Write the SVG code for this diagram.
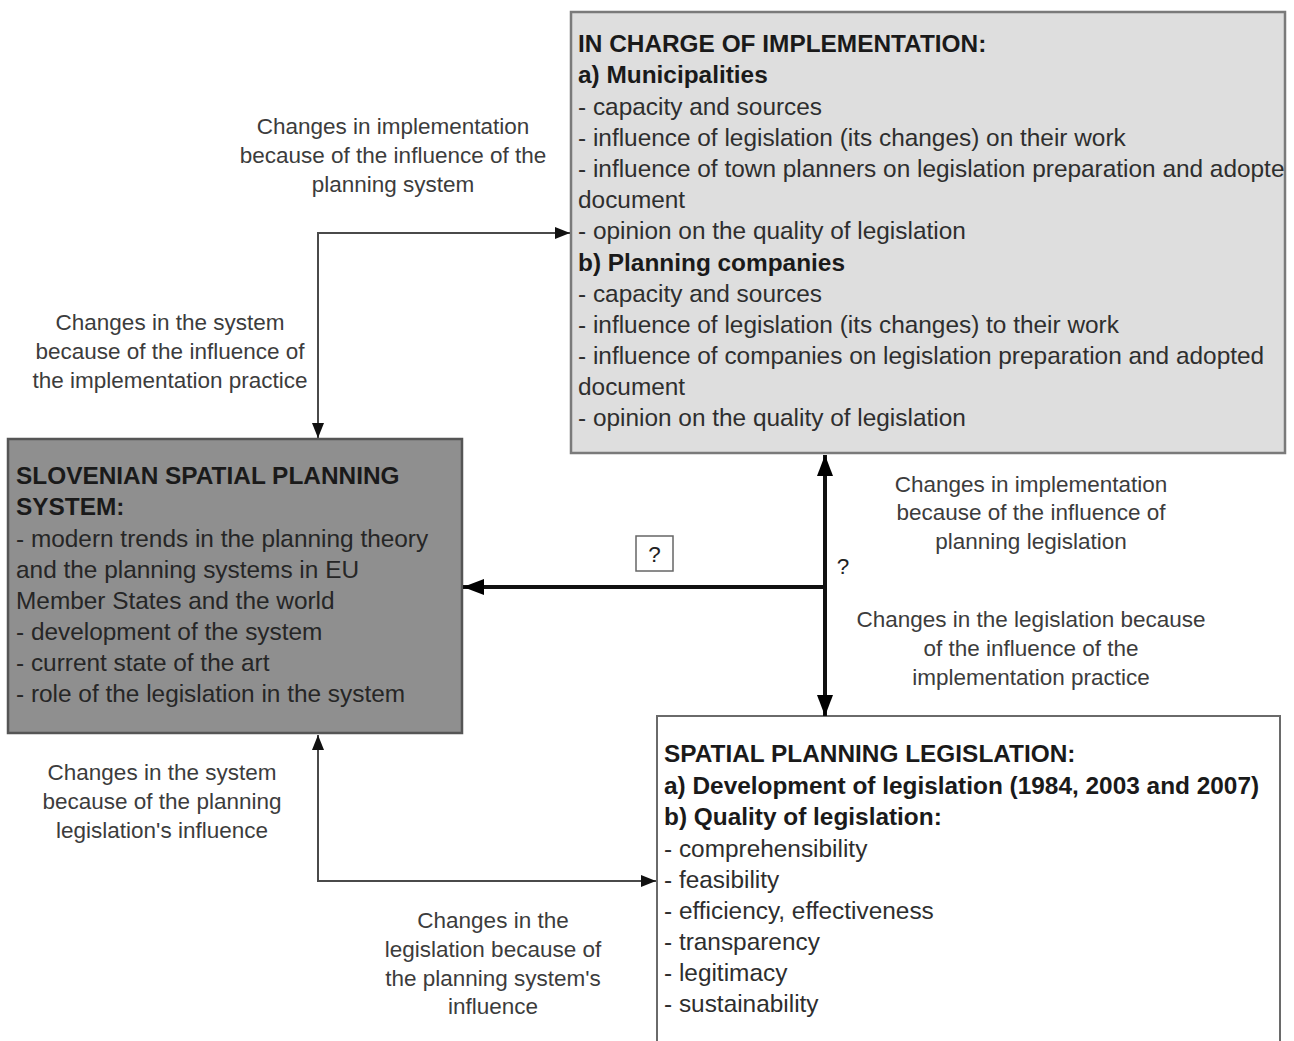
<svg xmlns="http://www.w3.org/2000/svg" width="1294" height="1041" viewBox="0 0 1294 1041">
<style>
.bt{font-family:"Liberation Sans",Arial,sans-serif;font-size:24.4px;fill:#2e2e2e}
.b{font-weight:bold;fill:#1a1a1a}
.lbl{font-family:"Liberation Sans",Arial,sans-serif;font-size:22.5px;fill:#3c3c3c;text-anchor:middle}
.thin{fill:none;stroke:#4a4a4a;stroke-width:2}
.thick{fill:none;stroke:#111;stroke-width:4}
</style>
<defs>
<marker id="aThin" markerUnits="userSpaceOnUse" markerWidth="16" markerHeight="14" refX="15" refY="7" orient="auto-start-reverse" viewBox="0 0 16 14">
<path d="M0,1 L15,7 L0,13 Z" fill="#111"/>
</marker>
<marker id="aThick" markerUnits="userSpaceOnUse" markerWidth="22" markerHeight="18" refX="21" refY="9" orient="auto-start-reverse" viewBox="0 0 22 18">
<path d="M0,1 L21,9 L0,17 Z" fill="#000"/>
</marker>
</defs>
<rect width="1294" height="1041" fill="#fff"/>

<g id="implementation">
<rect x="571" y="12" width="714" height="441" fill="#dedede" stroke="#7a7a7a" stroke-width="2.5"/>
<text class="bt" x="578"><tspan class="b" x="578" y="52">IN CHARGE OF IMPLEMENTATION:</tspan><tspan class="b" x="578" y="83">a) Municipalities</tspan><tspan x="578" y="115">- capacity and sources</tspan><tspan x="578" y="146">- influence of legislation (its changes) on their work</tspan><tspan x="578" y="177">- influence of town planners on legislation preparation and adopte</tspan><tspan x="578" y="208">document</tspan><tspan x="578" y="239">- opinion on the quality of legislation</tspan><tspan class="b" x="578" y="271">b) Planning companies</tspan><tspan x="578" y="302">- capacity and sources</tspan><tspan x="578" y="333">- influence of legislation (its changes) to their work</tspan><tspan x="578" y="364">- influence of companies on legislation preparation and adopted</tspan><tspan x="578" y="395">document</tspan><tspan x="578" y="426">- opinion on the quality of legislation</tspan></text>
</g>

<g id="system">
<rect x="8" y="439" width="454" height="294" fill="#8f8f8f" stroke="#555" stroke-width="2.5"/>
<text class="bt" x="16" style="fill:#262626"><tspan class="b" x="16" y="484">SLOVENIAN SPATIAL PLANNING</tspan><tspan class="b" x="16" y="515">SYSTEM:</tspan><tspan x="16" y="547">- modern trends in the planning theory</tspan><tspan x="16" y="578">and the planning systems in EU</tspan><tspan x="16" y="609">Member States and the world</tspan><tspan x="16" y="640">- development of the system</tspan><tspan x="16" y="671">- current state of the art</tspan><tspan x="16" y="702">- role of the legislation in the system</tspan></text>
</g>

<g id="legislation">
<rect x="657" y="716" width="623" height="360" fill="#fff" stroke="#6a6a6a" stroke-width="2"/>
<text class="bt" x="664"><tspan class="b" x="664" y="762">SPATIAL PLANNING LEGISLATION:</tspan><tspan class="b" x="664" y="794">a) Development of legislation (1984, 2003 and 2007)</tspan><tspan class="b" x="664" y="825">b) Quality of legislation:</tspan><tspan x="664" y="857">- comprehensibility</tspan><tspan x="664" y="888">- feasibility</tspan><tspan x="664" y="919">- efficiency, effectiveness</tspan><tspan x="664" y="950">- transparency</tspan><tspan x="664" y="981">- legitimacy</tspan><tspan x="664" y="1012">- sustainability</tspan></text>
</g>

<g id="question-box">
<rect x="636" y="536" width="37" height="35" fill="#fff" stroke="#666" stroke-width="1.5"/>
<text class="lbl" x="654.5" y="562" style="fill:#222">?</text>
</g>

<g id="connectors">
<path class="thin" d="M318,438 V233 H570" marker-start="url(#aThin)" marker-end="url(#aThin)"/>
<path class="thin" d="M318,735 V881 H656" marker-start="url(#aThin)" marker-end="url(#aThin)"/>
<path class="thick" d="M825,455 V716" marker-start="url(#aThick)" marker-end="url(#aThick)"/>
<path class="thick" d="M825,587 H463" marker-end="url(#aThick)"/>
</g>

<g id="labels">
<text class="lbl" x="393"><tspan x="393" y="134">Changes in implementation</tspan><tspan x="393" y="163">because of the influence of the</tspan><tspan x="393" y="192">planning system</tspan></text>
<text class="lbl" x="170"><tspan x="170" y="330">Changes in the system</tspan><tspan x="170" y="359">because of the influence of</tspan><tspan x="170" y="388">the implementation practice</tspan></text>
<text class="lbl" x="1031"><tspan x="1031" y="492">Changes in implementation</tspan><tspan x="1031" y="520">because of the influence of</tspan><tspan x="1031" y="549">planning legislation</tspan></text>
<text class="lbl" x="1031"><tspan x="1031" y="627">Changes in the legislation because</tspan><tspan x="1031" y="656">of the influence of the</tspan><tspan x="1031" y="685">implementation practice</tspan></text>
<text class="lbl" x="162"><tspan x="162" y="780">Changes in the system</tspan><tspan x="162" y="809">because of the planning</tspan><tspan x="162" y="838">legislation's influence</tspan></text>
<text class="lbl" x="493"><tspan x="493" y="928">Changes in the</tspan><tspan x="493" y="957">legislation because of</tspan><tspan x="493" y="986">the planning system's</tspan><tspan x="493" y="1014">influence</tspan></text>
<text class="lbl" x="843" y="574" style="fill:#222">?</text>
</g>
</svg>
